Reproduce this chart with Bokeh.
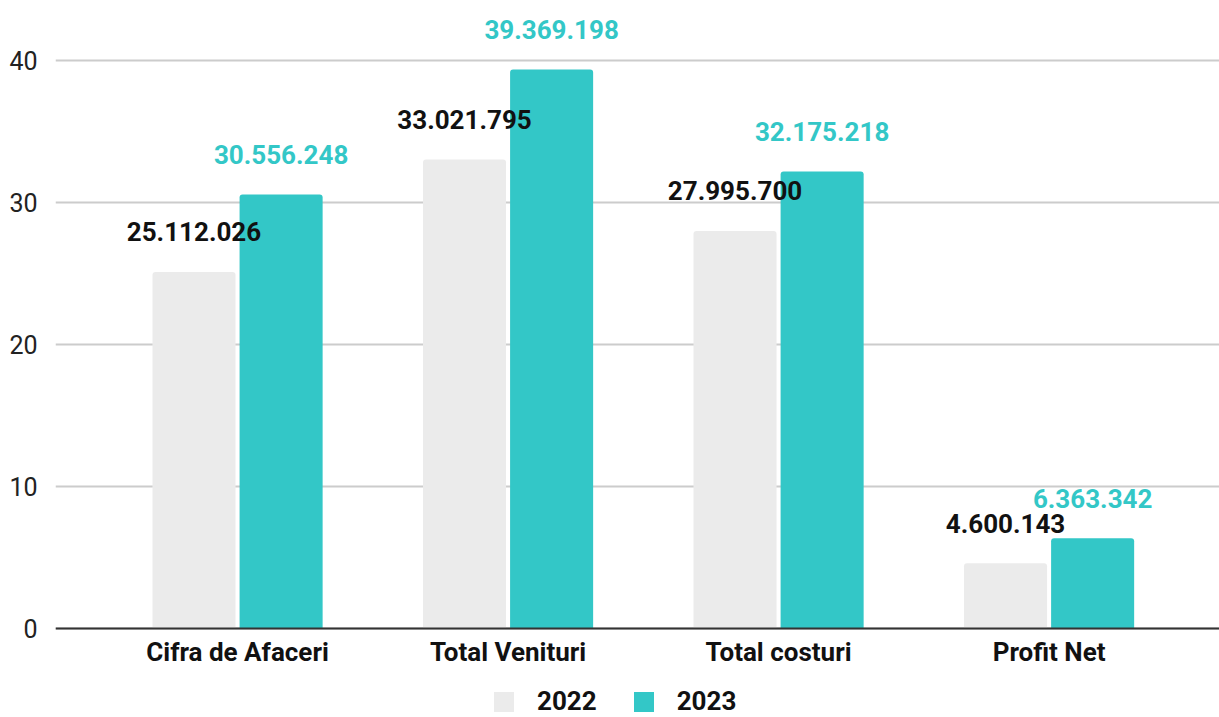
from bokeh.plotting import figure
from bokeh.models import ColumnDataSource, Range1d, FixedTicker, LabelSet, Legend, LegendItem
from bokeh.core.properties import value
from bokeh.embed import file_html
from bokeh.resources import INLINE

categories = ["Cifra de Afaceri", "Total Venituri", "Total costuri", "Profit Net"]
values_2022 = [25112026, 33021795, 27995700, 4600143]
values_2023 = [30556248, 39369198, 32175218, 6363342]
y_ticks = [0, 10, 20, 30, 40]
series_names = ["2022", "2023"]

GRAY = "#ebebeb"
TEAL = "#33c7c7"
FONT = "Roboto"

def fmt(v):
    return f"{v:,}".replace(",", ".")

idx = list(range(len(categories)))
src22 = ColumnDataSource(dict(x=[i - 0.161 for i in idx], top=[v / 1e6 for v in values_2022],
                              lab=[fmt(v) for v in values_2022]))
src23 = ColumnDataSource(dict(x=[i + 0.161 for i in idx], top=[v / 1e6 for v in values_2023],
                              lab=[fmt(v) for v in values_2023]))

p = figure(frame_width=1164, frame_height=717, output_backend="svg", toolbar_location=None,
           x_range=Range1d(-0.673, 3.630), y_range=Range1d(-6.268, 44.225),
           min_border_left=55, min_border_right=0, min_border_top=0, min_border_bottom=0)
p.outline_line_color = None
p.background_fill_color = "white"

r22 = p.vbar(x="x", top="top", width=0.307, source=src22, fill_color=GRAY, line_color=None,
             border_radius=(3, 3, 0, 0))
r23 = p.vbar(x="x", top="top", width=0.307, source=src23, fill_color=TEAL, line_color=None,
             border_radius=(3, 3, 0, 0))

l23 = LabelSet(x="x", y="top", text="lab", source=src23, text_align="center", text_baseline="middle",
               y_offset=40, text_font=value(FONT), text_font_style="bold", text_font_size="26px",
               text_color=TEAL)
l22 = LabelSet(x="x", y="top", text="lab", source=src22, text_align="center", text_baseline="middle",
               y_offset=40, text_font=value(FONT), text_font_style="bold", text_font_size="26px",
               text_color="#111111")
p.add_layout(l23)
p.add_layout(l22)

p.xgrid.grid_line_color = None
p.ygrid.ticker = FixedTicker(ticks=y_ticks)
p.ygrid.grid_line_color = "#cccccc"
p.ygrid.grid_line_width = 2

p.yaxis.ticker = FixedTicker(ticks=y_ticks)
p.yaxis.axis_line_color = None
p.yaxis.major_tick_line_color = None
p.yaxis.minor_tick_line_color = None
p.yaxis.major_label_text_font = FONT
p.yaxis.major_label_text_font_size = "25px"
p.yaxis.major_label_text_color = "#222222"
p.yaxis.major_label_standoff = 12

p.xaxis.fixed_location = 0
p.xaxis.ticker = FixedTicker(ticks=idx)
p.xaxis.major_label_overrides = {i: c for i, c in zip(idx, categories)}
p.xaxis.axis_line_color = "#333333"
p.xaxis.axis_line_width = 2
p.xaxis.major_tick_line_color = None
p.xaxis.minor_tick_line_color = None
p.xaxis.major_label_text_font = FONT
p.xaxis.major_label_text_font_style = "bold"
p.xaxis.major_label_text_font_size = "26px"
p.xaxis.major_label_text_color = "#111111"
p.xaxis.major_label_standoff = 3

legend = Legend(items=[LegendItem(label=series_names[0], renderers=[r22]),
                       LegendItem(label=series_names[1], renderers=[r23])],
                orientation="horizontal", location=(436, 1),
                glyph_width=25, glyph_height=25, label_standoff=21, spacing=34,
                padding=0, margin=0, border_line_color=None, background_fill_alpha=0,
                label_text_font=FONT, label_text_font_style="bold", label_text_font_size="26px",
                label_text_color="#111111")
p.add_layout(legend, "center")

open("out.html", "w").write(file_html(p, INLINE))
